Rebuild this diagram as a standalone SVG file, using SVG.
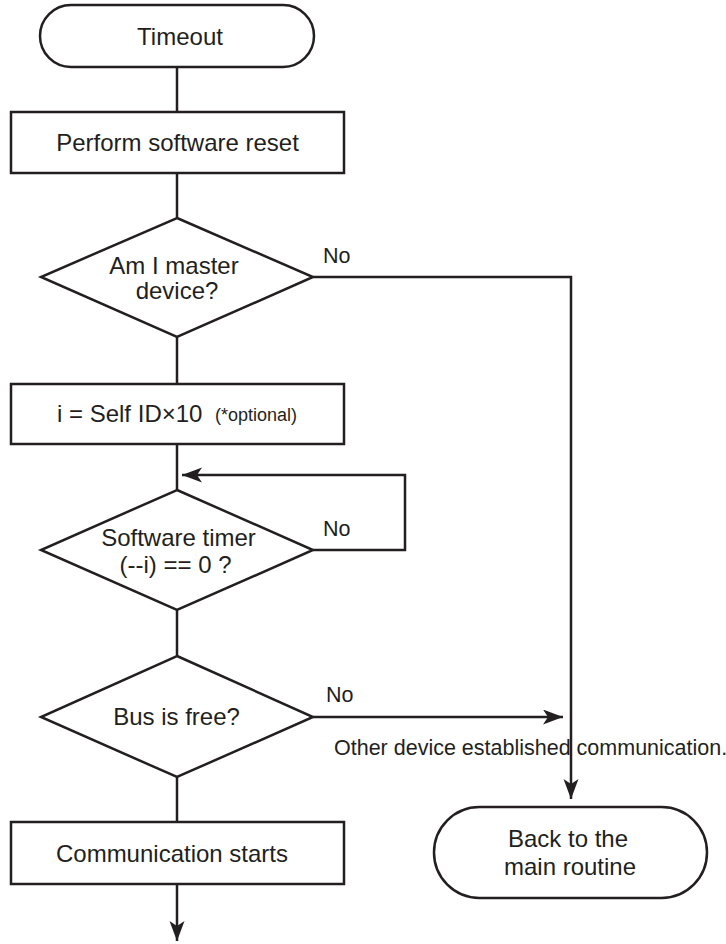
<svg xmlns="http://www.w3.org/2000/svg" width="726" height="944" viewBox="0 0 726 944">
<style>
  .shape { fill: #ffffff; stroke: #231f20; stroke-width: 2.5; }
  .conn { fill: none; stroke: #231f20; stroke-width: 2.5; }
  text { font-family: "Liberation Sans", Arial, sans-serif; fill: #231f20; }
  .main { font-size: 24px; text-anchor: middle; }
  .lbl { font-size: 21.5px; }
  .small { font-size: 18px; }
</style>
<defs>
  <marker id="arr" markerUnits="userSpaceOnUse" markerWidth="22" markerHeight="16" refX="20" refY="7.5" orient="auto">
    <path d="M0,0 L20,7.5 L0,15 L5,7.5 z" fill="#231f20"/>
  </marker>
</defs>
<rect width="726" height="944" fill="#ffffff"/>
<g id="connectors">
  <line class="conn" x1="177" y1="67" x2="177" y2="112"/>
  <line class="conn" x1="177" y1="173" x2="177" y2="218"/>
  <line class="conn" x1="177" y1="337" x2="177" y2="384"/>
  <line class="conn" x1="177" y1="444" x2="177" y2="490"/>
  <path class="conn" d="M313,550 H405 V475 H182" marker-end="url(#arr)"/>
  <line class="conn" x1="177" y1="610" x2="177" y2="656"/>
  <line class="conn" x1="177" y1="777" x2="177" y2="822"/>
  <line class="conn" x1="177" y1="884" x2="177" y2="941" marker-end="url(#arr)"/>
  <path class="conn" d="M313,277 H571 V799" marker-end="url(#arr)"/>
  <line class="conn" x1="313" y1="717" x2="563" y2="717" marker-end="url(#arr)"/>
  <text class="lbl" x="323" y="263">No</text>
  <text class="lbl" x="323" y="536">No</text>
  <text class="lbl" x="326" y="702">No</text>
  <text class="lbl" x="334" y="755">Other device established communication.</text>
</g>
<g id="timeout">
  <rect class="shape" x="40" y="5" width="274" height="62" rx="31"/>
  <text class="main" x="180" y="45">Timeout</text>
</g>
<g id="reset">
  <rect class="shape" x="11" y="112" width="333" height="61"/>
  <text class="main" x="177.5" y="151">Perform software reset</text>
</g>
<g id="master">
  <polygon class="shape" points="177,218 313,277 177,337 41,277"/>
  <text class="main" x="174" y="274">Am I master</text>
  <text class="main" x="177" y="299">device?</text>
</g>
<g id="selfid">
  <rect class="shape" x="11" y="384" width="333" height="60"/>
  <text style="font-size:24px" x="57" y="422">i = Self ID×10</text>
  <text class="small" x="215" y="421">(*optional)</text>
</g>
<g id="timer">
  <polygon class="shape" points="177,490 313,550 177,610 41,550"/>
  <text class="main" x="178.5" y="546">Software timer</text>
  <text class="main" x="175.5" y="573">(--i) == 0 ?</text>
</g>
<g id="busfree">
  <polygon class="shape" points="177,656 313,717 177,777 41,717"/>
  <text class="main" x="176.5" y="725">Bus is free?</text>
</g>
<g id="commstart">
  <rect class="shape" x="11" y="822" width="333" height="62"/>
  <text class="main" x="172" y="862">Communication starts</text>
</g>
<g id="back">
  <rect class="shape" x="434" y="807" width="273" height="91" rx="45.5"/>
  <text class="main" x="568" y="847">Back to the</text>
  <text class="main" x="570" y="875">main routine</text>
</g>
</svg>
